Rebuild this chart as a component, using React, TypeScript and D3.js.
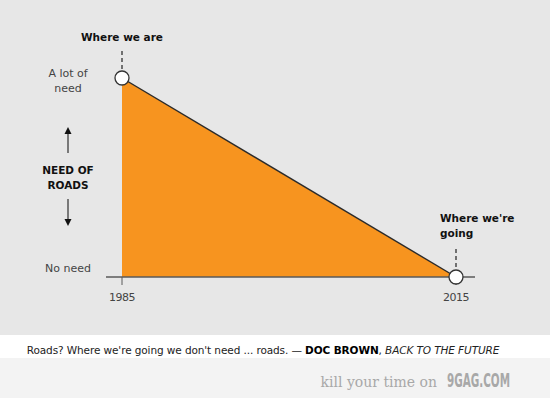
import React from 'react';
import * as d3 from 'd3';

const years = [1985, 2015];
const need = [1, 0];
const pointLabels = ['Where we are', "Where we're|going"];
const needLabels = ['A lot of|need', 'No need'];
const yTitle = ['NEED OF', 'ROADS'];
const caption = "Roads? Where we're going we don't need ... roads. — ";
const captionWho = 'DOC BROWN';
const captionFrom = 'BACK TO THE FUTURE';

const W = 550, H = 398;
const font = "'DejaVu Sans', sans-serif";

export default function App() {
  const x = d3.scaleLinear().domain([1985, 2015]).range([122, 456]);
  const y = d3.scaleLinear().domain([0, 1]).range([277, 78]);
  const pts = years.map((yr, i) => ({ yr, v: need[i] }));

  const area = d3.area<{ yr: number; v: number }>()
    .x(d => x(d.yr)).y0(y(0)).y1(d => y(d.v));
  const line = d3.line<{ yr: number; v: number }>()
    .x(d => x(d.yr)).y(d => y(d.v));

  const labelX = 68;

  return (
    <svg width={W} height={H} style={{ position: 'absolute', left: 0, top: 0 }} fontFamily={font}>
      <rect x={0} y={0} width={W} height={335} fill="#e7e7e7" />
      <rect x={0} y={335} width={W} height={23} fill="#ffffff" />
      <rect x={0} y={358} width={W} height={40} fill="#f3f3f3" />

      {/* area */}
      <path d={area(pts) || ''} fill="#f7941f" />
      <path d={line(pts) || ''} fill="none" stroke="#2b2b2b" strokeWidth={1.4} />

      {/* x axis */}
      <line x1={106} x2={475} y1={y(0)} y2={y(0)} stroke="#5a5a5a" strokeWidth={1.5} />
      {years.map(yr => (
        <g key={yr}>
          <line x1={x(yr)} x2={x(yr)} y1={y(0)} y2={y(0) + 8} stroke="#5a5a5a" strokeWidth={1} />
          <text x={x(yr)} y={301} textAnchor="middle" fontSize={11} fill="#444" letterSpacing={-0.5}>{yr}</text>
        </g>
      ))}

      {/* dashed leaders */}
      <line x1={x(1985)} x2={x(1985)} y1={51} y2={70} stroke="#222" strokeWidth={1.2} strokeDasharray="4,3" />
      <line x1={x(2015)} x2={x(2015)} y1={249} y2={268} stroke="#222" strokeWidth={1.2} strokeDasharray="4,3" />

      {/* points */}
      {pts.map(d => (
        <circle key={d.yr} cx={x(d.yr)} cy={y(d.v)} r={7} fill="#fff" stroke="#333" strokeWidth={1.3} />
      ))}

      {/* point labels */}
      <text x={x(1985)} y={41} textAnchor="middle" fontSize={10.5} fontWeight="bold" fill="#111">{pointLabels[0]}</text>
      {pointLabels[1].split('|').map((t, i) => (
        <text key={t} x={440} y={222 + i * 15} fontSize={10.5} fontWeight="bold" fill="#111">{t}</text>
      ))}

      {/* y labels */}
      {needLabels[0].split('|').map((t, i) => (
        <text key={t} x={labelX} y={77 + i * 15} textAnchor="middle" fontSize={11} fill="#444">{t}</text>
      ))}
      <text x={labelX} y={272} textAnchor="middle" fontSize={11} fill="#444">{needLabels[1]}</text>

      {yTitle.map((t, i) => (
        <text key={t} x={labelX} y={174 + i * 15} textAnchor="middle" fontSize={10.5} fontWeight="bold" fill="#111">{t}</text>
      ))}
      {/* arrows */}
      <line x1={labelX} x2={labelX} y1={133} y2={153} stroke="#555" strokeWidth={1.5} />
      <path d={`M${labelX - 3.5},${134} L${labelX + 3.5},${134} L${labelX},${127} Z`} fill="#111" />
      <line x1={labelX} x2={labelX} y1={199} y2={220} stroke="#555" strokeWidth={1.5} />
      <path d={`M${labelX - 3.5},${219} L${labelX + 3.5},${219} L${labelX},${226} Z`} fill="#111" />

      {/* caption */}
      <text x={263} y={354} textAnchor="middle" fontSize={10.5} fill="#222" letterSpacing={-0.1}>
        {caption}
        <tspan fontWeight="bold" fill="#000">{captionWho}</tspan>
        <tspan>, </tspan>
        <tspan fontStyle="italic">{captionFrom}</tspan>
      </text>

      {/* watermark */}
      <text x={437} y={387} textAnchor="end" fontSize={14} fill="#a8a8a8" fontFamily="'DejaVu Serif', serif">kill your time on</text>
      <text x={447} y={387} fontSize={19} fontWeight="bold" fill="#a8a8a8" fontFamily="'DejaVu Sans Condensed', 'DejaVu Sans', sans-serif"
        textLength={63} lengthAdjust="spacingAndGlyphs">9GAG.COM</text>
    </svg>
  );
}
